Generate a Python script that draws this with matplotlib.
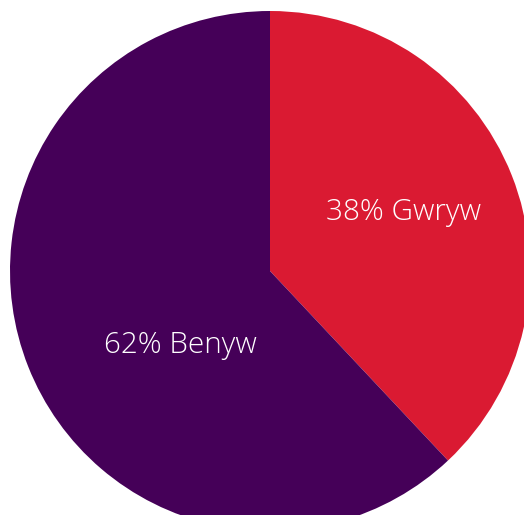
import matplotlib.pyplot as plt

labels = ["Gwryw", "Benyw"]
shares = [38, 62]
colours = ["#DA1A32", "#450058"]

fig = plt.figure(figsize=(5.24, 5.15), dpi=100)
ax = fig.add_axes([0, 0, 1, 1])

# pie centred at (0,0) with radius 1; axes limits put it where the reference has it
r_px = 260.0
cx, cy = 270.0, 271.0
ax.pie(shares, colors=colours, startangle=90, counterclock=False,
       radius=1, wedgeprops=dict(linewidth=0))
ax.set_xlim(-cx / r_px, (524 - cx) / r_px)
ax.set_ylim((cy - 515) / r_px, cy / r_px)
ax.set_aspect("auto")
ax.axis("off")

label_pos = [((404 - cx) / r_px, (cy - 212) / r_px),
             ((180 - cx) / r_px, (cy - 345) / r_px)]
for lab, val, (x, y) in zip(labels, shares, label_pos):
    ax.text(x, y, f"{val}% {lab}", color="white", fontsize=21.3,
            family="Open Sans", fontweight="light", ha="center", va="center")

fig.savefig("out.png", dpi=100)
